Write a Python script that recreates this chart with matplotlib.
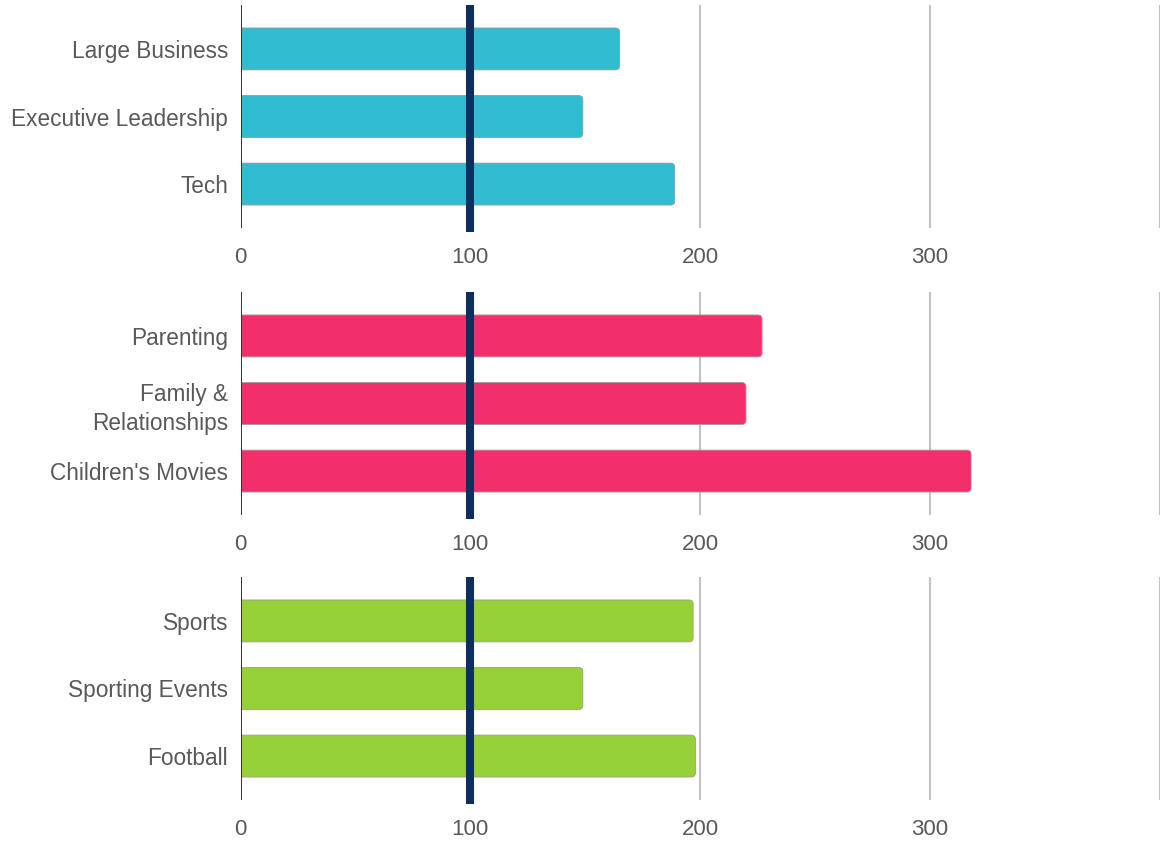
import matplotlib
matplotlib.use("Agg")
import matplotlib.pyplot as plt
from matplotlib.patches import FancyBboxPatch

plt.rcParams['font.family'] = ['Liberation Sans', 'DejaVu Sans']

# Index values per audience group (100 = baseline)
business_labels = ["Large Business", "Executive Leadership", "Tech"]
business_values = [165, 149, 189]

family_labels = ["Parenting", "Family &\nRelationships", "Children's Movies"]
family_values = [227, 220, 318]

sports_labels = ["Sports", "Sporting Events", "Football"]
sports_values = [197, 149, 198]

x_ticks = [0, 100, 200, 300, 400]
x_tick_labels = ["0", "100", "200", "300", ""]
baseline = 100

panels = [
    (business_labels, business_values, "#32BCD2"),
    (family_labels, family_values, "#F22F6A"),
    (sports_labels, sports_values, "#96D13A"),
]

W, H = 1163, 842
fig = plt.figure(figsize=(W / 100, H / 100), dpi=100)

left_px, right_px = 240.5, 1159.5
tops = [5, 292, 577]
axis_h = 223

text_color = "#595959"

for (labels, values, color), top in zip(panels, tops):
    ax = fig.add_axes([left_px / W, 1 - (top + axis_h) / H,
                       (right_px - left_px) / W, axis_h / H])
    ypos = list(range(len(labels)))
    bars = ax.barh(ypos, values, height=0.62, color=color, zorder=2)

    # rounded right-hand ends for the bars
    r_x = 1.8
    r_y = 0.06
    for rect in bars:
        x0, y0 = rect.get_x(), rect.get_y()
        w, h = rect.get_width(), rect.get_height()
        rect.set_visible(False)
        p = FancyBboxPatch((x0 - 5, y0), w + 5, h,
                           boxstyle=f"round,pad=0,rounding_size={r_x}",
                           mutation_aspect=r_y / r_x,
                           facecolor=color, edgecolor="#9a9a9a",
                           linewidth=0.6, zorder=2)
        ax.add_patch(p)
        p.set_clip_path(ax.patch)

    ax.set_xlim(0, 400)
    ax.set_ylim(2.65, -0.65)
    ax.set_yticks(ypos)
    ax.set_yticklabels(labels, fontsize=16.3, color=text_color,
                       multialignment="right", linespacing=1.35)
    ax.set_xticks(x_ticks)
    ax.set_xticklabels(x_tick_labels, fontsize=16, color=text_color)
    ax.tick_params(axis="both", length=0)
    ax.tick_params(axis="x", pad=14)
    ax.tick_params(axis="y", pad=9)

    for s in ax.spines.values():
        s.set_visible(False)

    for t in x_ticks[1:]:
        ax.axvline(t, color="#c4c4c4", linewidth=1.6, zorder=1)
    ax.axvline(0, color="#333333", linewidth=1.4, zorder=3)
    ax.axvline(baseline, ymin=-0.018, ymax=1.0, color="#0D2F5F",
               linewidth=5.8, zorder=4, clip_on=False,
               solid_capstyle="butt")

fig.savefig("out.png", dpi=100, facecolor="white")
